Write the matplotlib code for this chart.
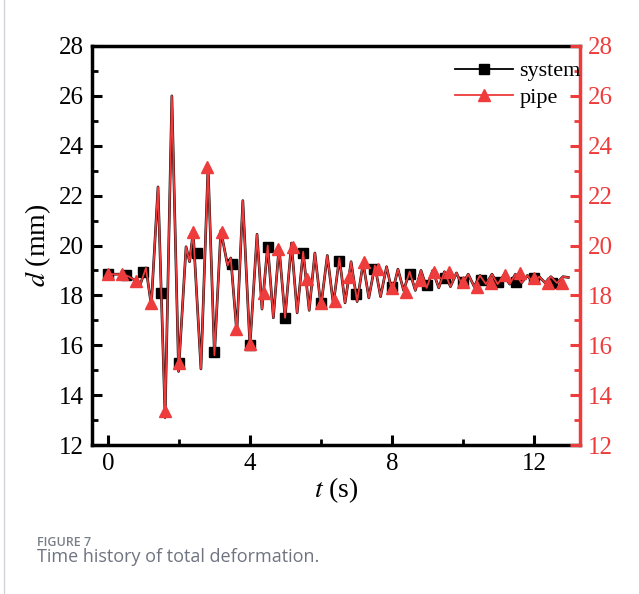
import matplotlib
matplotlib.use("Agg")
import matplotlib.pyplot as plt
from matplotlib.lines import Line2D
from matplotlib import font_manager as fm

# ---- data ----
t_curve = [0.0, 0.42, 0.6, 0.76, 0.9, 1.07, 1.22, 1.41, 1.61, 1.80, 1.99, 2.2, 2.3, 2.4,
           2.62, 2.82, 3.0, 3.18, 3.37, 3.46, 3.63, 3.80, 4.0, 4.2, 4.34, 4.5, 4.66, 4.82,
           4.99, 5.17, 5.33, 5.5, 5.67, 5.83, 6.0, 6.18, 6.35, 6.52, 6.68, 6.85, 7.02, 7.19,
           7.35, 7.52, 7.68, 7.85, 8.01, 8.17, 8.33, 8.5, 8.66, 8.82, 8.98, 9.15, 9.32, 9.48,
           9.65, 9.82, 9.98, 10.15, 10.32, 10.48, 10.65, 10.82, 10.98, 11.15, 11.32, 11.48,
           11.65, 11.82, 11.98, 12.15, 12.32, 12.48, 12.65, 12.82, 12.97]
d_curve = [18.85, 18.85, 18.75, 18.6, 18.4, 19.1, 17.6, 22.35, 13.1, 26.0, 14.95, 19.95, 19.35, 20.55,
           15.05, 23.2, 15.6, 20.6, 19.2, 19.5, 16.5, 21.8, 15.95, 20.45, 17.45, 20.0, 17.1, 19.95,
           17.1, 20.1, 17.3, 19.75, 17.4, 19.7, 17.55, 19.6, 17.65, 19.5, 17.7, 19.35, 17.75, 19.3,
           17.9, 19.2, 17.95, 19.15, 18.1, 19.05, 18.2, 18.95, 18.2, 19.0, 18.3, 19.0, 18.3, 18.95,
           18.35, 18.9, 18.4, 18.85, 18.35, 18.8, 18.45, 18.85, 18.45, 18.8, 18.45, 18.85,
           18.5, 18.8, 18.5, 18.75, 18.5, 18.75, 18.5, 18.75, 18.72]

t_system = [0.0, 0.5, 1.0, 1.5, 2.0, 2.5, 3.0, 3.5, 4.0, 4.5, 5.0, 5.5, 6.0, 6.5, 7.0,
            7.5, 8.0, 8.5, 9.0, 9.5, 10.0, 10.5, 11.0, 11.5, 12.0, 12.5]
d_system = [18.85, 18.8, 18.93, 18.1, 15.3, 19.7, 15.73, 19.26, 16.0, 19.95, 17.1, 19.7, 17.7, 19.36, 18.07,
            19.05, 18.35, 18.85, 18.42, 18.7, 18.53, 18.6, 18.55, 18.55, 18.7, 18.5]

t_pipe = [0.0, 0.4, 0.8, 1.2, 1.6, 2.0, 2.4, 2.8, 3.2, 3.6, 4.0, 4.4, 4.8, 5.2, 5.6, 6.0,
          6.4, 6.8, 7.2, 7.6, 8.0, 8.4, 8.8, 9.2, 9.6, 10.0, 10.4, 10.8, 11.2, 11.6, 12.0, 12.4, 12.8]
d_pipe = [18.85, 18.85, 18.58, 17.7, 13.35, 15.3, 20.55, 23.15, 20.55, 16.65, 16.05, 18.1, 19.85, 19.95, 18.65, 17.7,
          17.78, 18.75, 19.33, 19.05, 18.3, 18.15, 18.6, 18.95, 18.95, 18.55, 18.35, 18.5, 18.8, 18.88, 18.7, 18.5, 18.5]

y_ticks = [12, 14, 16, 18, 20, 22, 24, 26, 28]
y_minor = [13, 15, 17, 19, 21, 23, 25, 27]
x_ticks = [0, 4, 8, 12]
x_minor = [2, 6, 10]

RED = "#ee3b3b"
SERIF = "Liberation Serif"
serif_file = fm.findfont(fm.FontProperties(family=SERIF))

plt.rcParams["font.family"] = [SERIF, "DejaVu Serif"]
plt.rcParams["mathtext.fontset"] = "stix"

fig = plt.figure(figsize=(6.39, 5.94), dpi=100)
ax = fig.add_axes([92 / 639, 1 - 445 / 594, (580 - 92) / 639, (445 - 46) / 594])
ax2 = ax.twinx()

# system
ax.plot(t_curve, d_curve, color="black", lw=1.9, zorder=2)
ax.plot(t_system, d_system, ls="none", marker="s", ms=7, color="black", zorder=3)
# pipe
ax2.plot(t_curve, d_curve, color=RED, lw=1.3, zorder=2)
ax2.plot(t_pipe, d_pipe, ls="none", marker="^", ms=9, color=RED, zorder=3)

for a in (ax, ax2):
    a.set_xlim(-0.45, 13.3)
    a.set_ylim(12, 28)

ax.set_xticks(x_ticks)
ax.set_xticks(x_minor, minor=True)
ax.set_yticks(y_ticks)
ax.set_yticks(y_minor, minor=True)
ax2.set_yticks(y_ticks)
ax2.set_yticks(y_minor, minor=True)
ax.set_xticklabels([str(v) for v in x_ticks], fontproperties=fm.FontProperties(fname=serif_file, size=18))
ax.set_yticklabels([str(v) for v in y_ticks], fontproperties=fm.FontProperties(fname=serif_file, size=18))
ax2.set_yticklabels([str(v) for v in y_ticks], fontproperties=fm.FontProperties(fname=serif_file, size=18))

ax.tick_params(axis="both", which="major", direction="in", length=7, width=2.2,
               pad=6, colors="black")
ax.tick_params(axis="both", which="minor", direction="in", length=4, width=2.0)
ax.tick_params(axis="y", which="both", right=False)
ax.tick_params(axis="x", which="both", top=False)
ax2.tick_params(axis="y", which="major", direction="in", length=7, width=2.2,
                pad=6, colors=RED)
ax2.tick_params(axis="y", which="minor", direction="in", length=4, width=2.0, colors=RED)

for s in ("left", "bottom", "top"):
    ax.spines[s].set_linewidth(2.5)
ax.spines["right"].set_visible(False)
for s in ("left", "bottom", "top"):
    ax2.spines[s].set_visible(False)
ax2.spines["right"].set_color(RED)
ax2.spines["right"].set_linewidth(2.5)

ax.set_xlabel("$t$ (s)", fontsize=20, labelpad=0)
ax.set_ylabel("$d$ (mm)", fontsize=20, labelpad=4)

handles = [Line2D([], [], color="black", lw=1.3, marker="s", ms=7),
           Line2D([], [], color=RED, lw=1.3, marker="^", ms=9)]
ax2.legend(handles, ["system", "pipe"], loc="upper right", frameon=False,
           handlelength=2.6, handletextpad=0.3, borderaxespad=0.0,
           labelspacing=0.25, bbox_to_anchor=(1.02, 0.985),
           prop=fm.FontProperties(fname=serif_file, size=16))

# caption
fig.text(37 / 639, 1 - 543 / 594, "FIGURE 7", fontsize=9, color="#7a7f87",
         family="Open Sans", fontweight="semibold", va="center")
fig.text(37 / 639, 1 - 557 / 594, "Time history of total deformation.", fontsize=13,
         color="#6f7480", family="Open Sans", va="center")
fig.add_artist(Line2D([4 / 639, 4 / 639], [0, 1], transform=fig.transFigure,
                      color="#cfd2d6", lw=1))

fig.savefig("out.png", dpi=100)
